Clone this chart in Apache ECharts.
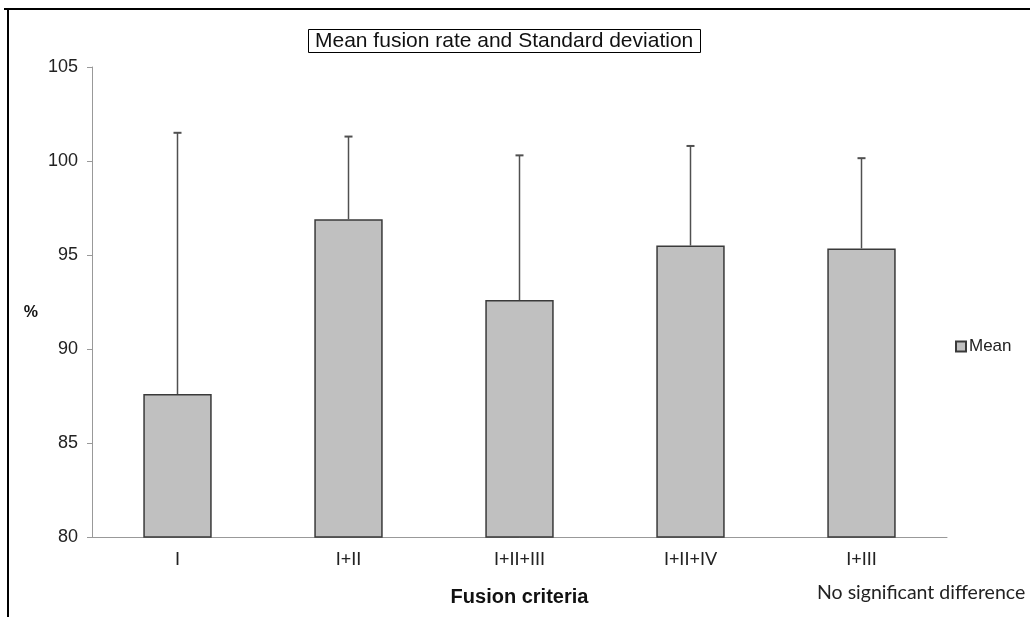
<!DOCTYPE html>
<html lang="en">
  <head>
    <meta charset="UTF-8" />
    <title>Mean fusion rate</title>
    <style>
      html, body { margin: 0; padding: 0; background: #fff; }
      #chart { width: 1030px; height: 617px; }
    </style>
  </head>
  <body>
    <div id="chart"></div>
    <script src="https://cdn.jsdelivr.net/npm/echarts@6/dist/echarts.min.js"></script>
    <script>
      const criteria = ["I", "I+II", "I+II+III", "I+II+IV", "I+III"];
      const meanRate = [87.6, 96.9, 92.6, 95.5, 95.35];
      const stdDev = [13.9, 4.4, 7.7, 5.3, 4.8];
      const yTicks = [80, 85, 90, 95, 100, 105];

      const errData = criteria.map((c, i) => [i, meanRate[i], meanRate[i] + stdDev[i]]);

      const myChart = echarts.init(document.querySelector("#chart"));

      const option = {
        animation: false,
        title: {
          text: "Mean fusion rate and Standard deviation",
          left: 308,
          top: 29,
          padding: [2, 7, 1, 7],
          borderColor: "#000",
          borderWidth: 1,
          textStyle: {
            fontFamily: "Liberation Sans",
            fontSize: 21,
            fontWeight: "normal",
            color: "#111"
          }
        },
        legend: {
          data: ["Mean"],
          left: 950,
          top: 333,
          icon: "rect",
          itemWidth: 10,
          itemHeight: 10,
          itemGap: 4,
          textStyle: { fontFamily: "Liberation Sans", fontSize: 17, color: "#222", padding: [0, 0, 0, -2] }
        },
        grid: { left: 92, right: 83, top: 67, bottom: 80 },
        xAxis: {
          type: "category",
          data: criteria,
          name: "Fusion criteria",
          nameLocation: "middle",
          nameGap: 50,
          nameTextStyle: { fontFamily: "Liberation Sans", fontSize: 20, fontWeight: "bold", color: "#111" },
          axisLine: { lineStyle: { color: "#999" } },
          axisTick: { length: 5, lineStyle: { color: "#999" } },
          axisLabel: { fontFamily: "Lato", fontSize: 18, color: "#222", margin: 13 }
        },
        yAxis: {
          type: "value",
          min: yTicks[0],
          max: yTicks[yTicks.length - 1],
          interval: 5,
          name: "%",
          nameLocation: "middle",
          nameRotate: 0,
          nameGap: 54,
          nameTextStyle: {
            fontFamily: "Liberation Sans",
            fontSize: 16,
            fontWeight: "bold",
            color: "#111",
            verticalAlign: "top",
            padding: [3, 0, 0, 0]
          },
          axisLine: { show: true, lineStyle: { color: "#999" } },
          axisTick: { show: true, length: 5, lineStyle: { color: "#999" } },
          splitLine: { show: false },
          axisLabel: { fontFamily: "Liberation Sans", fontSize: 18, color: "#222", margin: 14 }
        },
        series: [
          {
            name: "Mean",
            type: "bar",
            data: meanRate,
            barWidth: "40%",
            itemStyle: { color: "#c0c0c0", borderColor: "#3a3a3a", borderWidth: 1.5 },
            z: 2
          },
          {
            name: "SD",
            type: "custom",
            data: errData,
            z: 3,
            renderItem: (params, api) => {
              const base = api.coord([api.value(0), api.value(1)]);
              const top = api.coord([api.value(0), api.value(2)]);
              return {
                type: "group",
                children: [
                  {
                    type: "line",
                    shape: { x1: base[0], y1: base[1], x2: top[0], y2: top[1] },
                    style: { stroke: "#505050", lineWidth: 1.5 }
                  },
                  {
                    type: "line",
                    shape: { x1: top[0] - 4, y1: top[1], x2: top[0] + 4, y2: top[1] },
                    style: { stroke: "#505050", lineWidth: 2 }
                  }
                ]
              };
            }
          }
        ],
        graphic: [
          {
            type: "line",
            shape: { x1: 4, y1: 9, x2: 1030, y2: 9 },
            style: { stroke: "#000", lineWidth: 2 }
          },
          {
            type: "line",
            shape: { x1: 8, y1: 9, x2: 8, y2: 617 },
            style: { stroke: "#000", lineWidth: 2 }
          },
          {
            type: "text",
            left: 817,
            top: 583,
            style: {
              text: "No significant difference",
              font: "19.5px Lato",
              fill: "#222"
            }
          }
        ]
      };
      myChart.setOption(option);
    </script>
  </body>
</html>
